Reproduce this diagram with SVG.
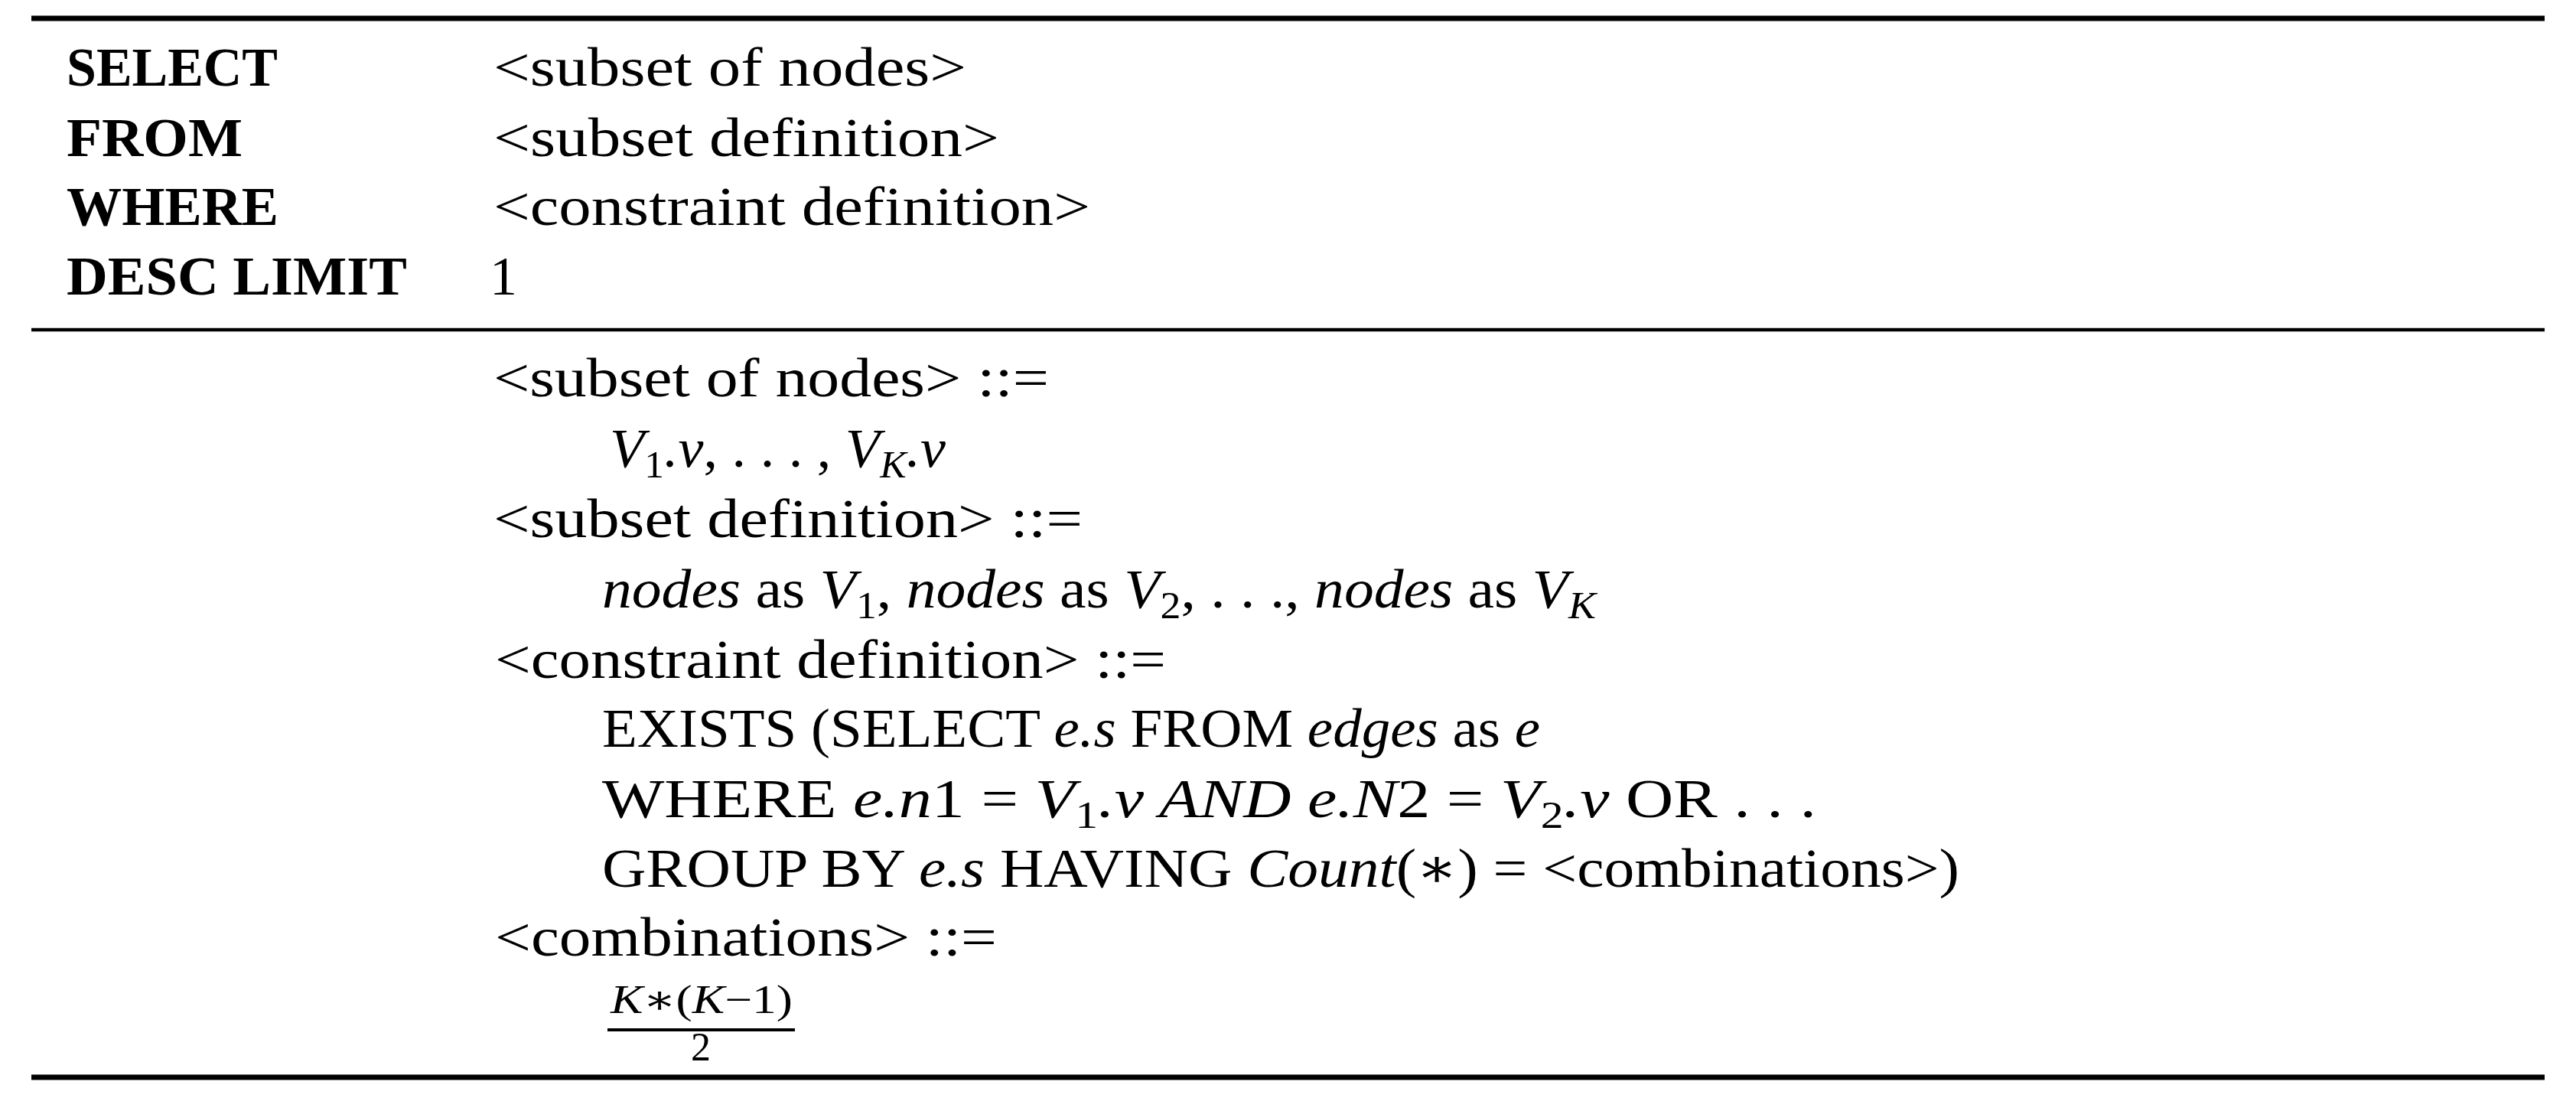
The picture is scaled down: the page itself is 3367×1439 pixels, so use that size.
<svg xmlns="http://www.w3.org/2000/svg" width="3367" height="1439" viewBox="0 0 3367 1439">
<style>
text{font-family:"Liberation Serif","DejaVu Serif",serif;font-size:72px;fill:#000}
.b{font-weight:bold}
.i{font-style:italic}
.s{font-size:50px}
</style>
<rect width="3367" height="1439" fill="#fff"/>
<g id="rules" stroke="#000">
<line x1="41" y1="24" x2="3326" y2="24" stroke-width="7"/>
<line x1="41" y1="431" x2="3326" y2="431" stroke-width="4.5"/>
<line x1="41" y1="1408" x2="3326" y2="1408" stroke-width="7"/>
</g>
<g id="query">
<text class="b" x="87" y="112" textLength="276" lengthAdjust="spacingAndGlyphs">SELECT</text>
<text class="b" x="87" y="204" textLength="230" lengthAdjust="spacingAndGlyphs">FROM</text>
<text class="b" x="87" y="294" textLength="277" lengthAdjust="spacingAndGlyphs">WHERE</text>
<text class="b" x="87" y="385" textLength="445" lengthAdjust="spacingAndGlyphs">DESC LIMIT</text>
<text x="645" y="112" textLength="618" lengthAdjust="spacingAndGlyphs">&lt;subset of nodes&gt;</text>
<text x="645" y="204" textLength="661" lengthAdjust="spacingAndGlyphs">&lt;subset definition&gt;</text>
<text x="645" y="294" textLength="780" lengthAdjust="spacingAndGlyphs">&lt;constraint definition&gt;</text>
<text x="640" y="385">1</text>
</g>
<g id="grammar">
<text x="645" y="518" textLength="726" lengthAdjust="spacingAndGlyphs">&lt;subset of nodes&gt; ::=</text>
<text x="797" y="610" textLength="439" lengthAdjust="spacingAndGlyphs"><tspan class="i">V</tspan><tspan class="s" dy="14">1</tspan><tspan dy="-14" class="i">.v</tspan>, . . . , <tspan class="i">V</tspan><tspan class="s i" dy="14">K</tspan><tspan dy="-14" class="i">.v</tspan></text>
<text x="645" y="702" textLength="770" lengthAdjust="spacingAndGlyphs">&lt;subset definition&gt; ::=</text>
<text x="787" y="794" textLength="1299" lengthAdjust="spacingAndGlyphs"><tspan class="i">nodes</tspan> as <tspan class="i">V</tspan><tspan class="s" dy="14">1</tspan><tspan dy="-14">, </tspan><tspan class="i">nodes</tspan> as <tspan class="i">V</tspan><tspan class="s" dy="14">2</tspan><tspan dy="-14">, . . ., </tspan><tspan class="i">nodes</tspan> as <tspan class="i">V</tspan><tspan class="s i" dy="14">K</tspan></text>
<text x="647" y="886" textLength="877" lengthAdjust="spacingAndGlyphs">&lt;constraint definition&gt; ::=</text>
<text x="787" y="976" textLength="1226" lengthAdjust="spacingAndGlyphs">EXISTS (SELECT <tspan class="i">e.s</tspan> FROM <tspan class="i">edges</tspan> as <tspan class="i">e</tspan></text>
<text x="787" y="1068" textLength="1587" lengthAdjust="spacingAndGlyphs">WHERE <tspan class="i">e.n</tspan>1 <tspan>  =  </tspan><tspan class="i">V</tspan><tspan class="s" dy="14">1</tspan><tspan dy="-14" class="i">.v AND e.N</tspan>2 <tspan>  =  </tspan><tspan class="i">V</tspan><tspan class="s" dy="14">2</tspan><tspan dy="-14" class="i">.v</tspan> OR . . .</text>
<text x="787" y="1159" textLength="1774" lengthAdjust="spacingAndGlyphs">GROUP BY <tspan class="i">e.s</tspan> HAVING <tspan class="i">Count</tspan>(∗) = &lt;combinations&gt;)</text>
<text x="647" y="1249" textLength="656" lengthAdjust="spacingAndGlyphs">&lt;combinations&gt; ::=</text>
<text x="798" y="1324" font-size="52" textLength="238" lengthAdjust="spacingAndGlyphs" style="font-size:52px"><tspan class="i">K</tspan>∗(<tspan class="i">K</tspan>−1)</text>
<line x1="794" y1="1346" x2="1039" y2="1346" stroke="#000" stroke-width="4"/>
<text x="916" y="1386" text-anchor="middle" style="font-size:52px">2</text>
</g>
</svg>
